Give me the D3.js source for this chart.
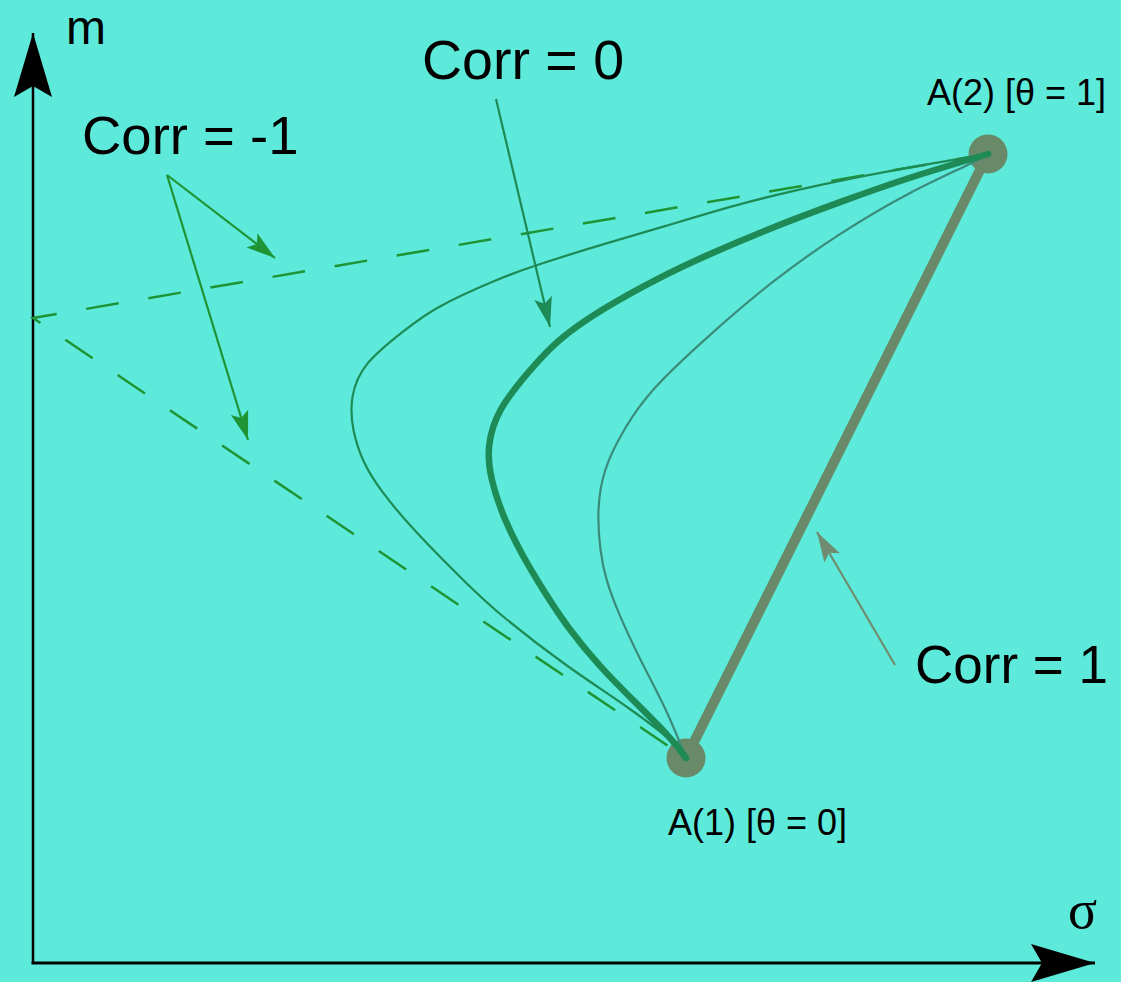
<!DOCTYPE html>
<html>
<head>
<meta charset="utf-8">
<script src="https://cdn.jsdelivr.net/npm/d3@7"></script>
<style>
    body { margin: 0; background: #5deada; }
    svg { display: block; }
    text { font-family: "Liberation Sans", Arial, sans-serif; fill: #000; }
    .greek { font-family: "Liberation Serif", "DejaVu Serif", serif; }
</style>
</head>
<body>
<div id="chart"></div>
<script>
// two assets in the (sigma, m) plane
const assetA1 = [6.53, 2.05];
const assetA2 = [9.55, 8.09];
const zeroRiskM = 6.45; // where the corr = -1 lines meet the m axis

// frontier for corr = 0 (thick), from A1 to A2
const corr0Sigma = [6.53, 6.40, 6.00, 5.67, 5.34, 5.10, 4.89, 4.70, 4.57, 4.54, 4.64, 4.97, 5.24, 5.67, 6.27, 6.74, 7.40, 8.07, 8.74, 9.55];
const corr0M =     [2.05, 2.23, 2.63, 2.96, 3.36, 3.73, 4.08, 4.46, 4.86, 5.16, 5.53, 5.93, 6.23, 6.53, 6.86, 7.08, 7.36, 7.61, 7.85, 8.09];

// negative correlation (outer thin curve)
const corrNegSigma = [6.53, 6.47, 6.00, 5.34, 4.67, 4.37, 3.80, 3.47, 3.30, 3.19, 3.17, 3.30, 3.72, 4.00, 4.67, 5.00, 5.77, 6.27, 7.07, 8.07, 9.07, 9.55];
const corrNegM =     [2.05, 2.16, 2.53, 2.96, 3.48, 3.76, 4.33, 4.73, 5.00, 5.33, 5.66, 6.00, 6.33, 6.55, 6.85, 6.97, 7.21, 7.35, 7.60, 7.83, 8.01, 8.09];

// positive correlation (inner thin curve)
const corrPosSigma = [6.53, 6.34, 6.07, 5.84, 5.73, 5.67, 5.64, 5.70, 5.90, 6.17, 6.74, 7.40, 8.07, 8.74, 9.40, 9.55];
const corrPosM =     [2.05, 2.53, 3.03, 3.53, 3.83, 4.11, 4.53, 4.93, 5.33, 5.73, 6.26, 6.83, 7.30, 7.70, 8.00, 8.09];

// annotations: label text, label position, arrows [from, to]
const annoLabels = ["Corr = -1", "Corr = 0", "Corr = 1"];
const annoLabelPos = [[0.49, 8.09], [3.89, 8.84], [8.82, 2.80]];
const annoArrows = [
    [[[1.34, 7.88], [2.42, 7.05]], [[1.34, 7.88], [2.15, 5.23]]],
    [[[4.63, 8.64], [5.17, 6.36]]],
    [[[8.62, 2.98], [7.84, 4.31]]]
];

const pointLabels = ["A(1) [θ = 0]", "A(2) [θ = 1]"];
const pointLabelPos = [[6.35, 1.28], [8.94, 8.58]];

const axisEnd = [10.62, 9.30];

const width = 1121, height = 982;

const x = d3.scaleLinear().domain([0, 10]).range([33, 1033]);
const y = d3.scaleLinear().domain([0, 9]).range([963, 63]);

const svg = d3.select("#chart").append("svg")
    .attr("width", width)
    .attr("height", height);

const defs = svg.append("defs");

function addMarker(id, color, len, half, notch) {
    defs.append("marker")
        .attr("id", id)
        .attr("markerUnits", "userSpaceOnUse")
        .attr("viewBox", `${-len - 1} ${-half - 1} ${len + 2} ${2 * half + 2}`)
        .attr("refX", 0)
        .attr("refY", 0)
        .attr("markerWidth", len + 2)
        .attr("markerHeight", 2 * half + 2)
        .attr("orient", "auto")
        .append("path")
        .attr("d", `M0,0L${-len},${-half}L${-len + notch},0L${-len},${half}Z`)
        .attr("fill", color);
}

const colNeg1 = "#1f9435";
const col0 = "#1e8a55";
const colPos = "#3b8b7b";
const col1 = "#688a68";
const col1Arrow = "#6f8c70";

addMarker("axisHead", "#000", 64, 19, 11);
addMarker("headNeg1", colNeg1, 29, 9, 6);
addMarker("head0", col0, 30, 9, 6);
addMarker("head1", col1Arrow, 30, 9, 6);

// axes
svg.append("line")
    .attr("x1", x(0)).attr("y1", y(0))
    .attr("x2", x(0)).attr("y2", y(axisEnd[1]))
    .attr("stroke", "#000").attr("stroke-width", 2.5)
    .attr("marker-end", "url(#axisHead)");

svg.append("line")
    .attr("x1", x(0) - 1.5).attr("y1", y(0))
    .attr("x2", x(axisEnd[0])).attr("y2", y(0))
    .attr("stroke", "#000").attr("stroke-width", 3)
    .attr("marker-end", "url(#axisHead)");

svg.append("text").attr("x", x(0.33)).attr("y", y(9.19))
    .attr("font-size", 48).text("m");

svg.append("text").attr("class", "greek").attr("x", x(10.35)).attr("y", y(0.35))
    .attr("font-size", 54).text("σ");

const line = d3.line()
    .x(d => x(d[0]))
    .y(d => y(d[1]))
    .curve(d3.curveBasis);

const straight = d3.line()
    .x(d => x(d[0]))
    .y(d => y(d[1]));

// corr = -1 : dashed broken line through the zero risk point
svg.append("path")
    .datum([assetA2, [0, zeroRiskM], assetA1])
    .attr("d", straight)
    .attr("fill", "none")
    .attr("stroke", colNeg1)
    .attr("stroke-width", 2.5)
    .attr("stroke-dasharray", "33,30");

// curves
const curves = [
    { s: corrNegSigma, m: corrNegM, color: col0, w: 2.2 },
    { s: corrPosSigma, m: corrPosM, color: colPos, w: 2.2 },
    { s: corr0Sigma, m: corr0M, color: col0, w: 6.5 }
];

// corr = 1 : straight line between the assets
svg.append("path")
    .datum([assetA1, assetA2])
    .attr("d", straight)
    .attr("stroke", col1)
    .attr("stroke-width", 10)
    .attr("fill", "none");

svg.selectAll(".asset")
    .data([assetA1, assetA2])
    .enter()
    .append("circle")
    .attr("class", "asset")
    .attr("cx", d => x(d[0]))
    .attr("cy", d => y(d[1]))
    .attr("r", 19.5)
    .attr("fill", col1);

curves.forEach(c => {
    svg.append("path")
        .datum(c.s.map((v, i) => [v, c.m[i]]))
        .attr("d", line)
        .attr("fill", "none")
        .attr("stroke", c.color)
        .attr("stroke-width", c.w)
        .attr("stroke-linecap", "round");
});

// annotation arrows
const arrowStyle = [
    { color: colNeg1, head: "headNeg1", size: 54.5 },
    { color: col0, head: "head0", size: 55.5 },
    { color: col1Arrow, head: "head1", size: 53 }
];

annoArrows.forEach((arrows, i) => {
    arrows.forEach(a => {
        svg.append("line")
            .attr("x1", x(a[0][0])).attr("y1", y(a[0][1]))
            .attr("x2", x(a[1][0])).attr("y2", y(a[1][1]))
            .attr("stroke", arrowStyle[i].color)
            .attr("stroke-width", 2.2)
            .attr("marker-end", `url(#${arrowStyle[i].head})`);
    });
});

svg.selectAll(".anno")
    .data(annoLabels)
    .enter()
    .append("text")
    .attr("class", "anno")
    .attr("x", (d, i) => x(annoLabelPos[i][0]))
    .attr("y", (d, i) => y(annoLabelPos[i][1]))
    .attr("font-size", (d, i) => arrowStyle[i].size)
    .text(d => d);

// asset labels
svg.selectAll(".plabel")
    .data(pointLabels)
    .enter()
    .append("text")
    .attr("class", "plabel")
    .attr("x", (d, i) => x(pointLabelPos[i][0]))
    .attr("y", (d, i) => y(pointLabelPos[i][1]))
    .attr("font-size", 36)
    .text(d => d);
</script>
</body>
</html>
